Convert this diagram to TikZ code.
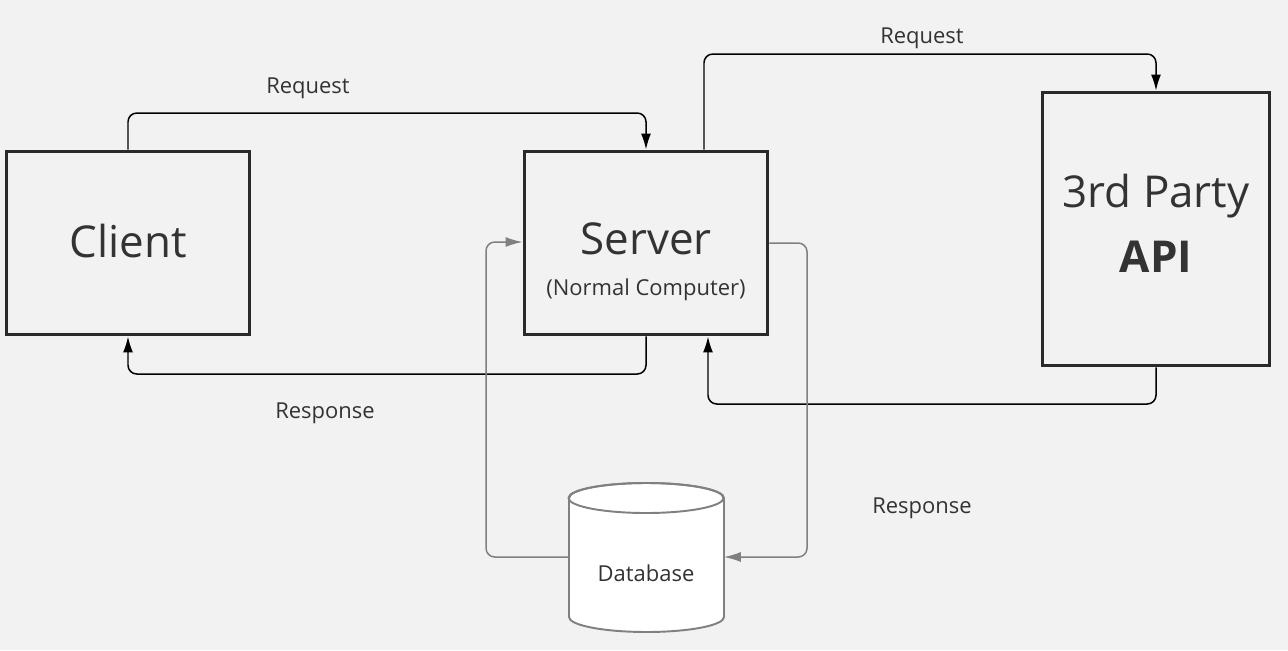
\documentclass[tikz,border=0pt]{standalone}
\usepackage{fontspec}
\setmainfont{Open Sans}
\usetikzlibrary{arrows.meta}
\definecolor{bgcol}{HTML}{F2F2F2}
\definecolor{boxline}{HTML}{2A2A2A}
\definecolor{txtcol}{HTML}{333333}
\definecolor{dbline}{HTML}{808080}
\begin{document}
\begin{tikzpicture}[x=0.02cm, y=-0.02cm, text=txtcol,
  box/.style={draw=boxline, line width=1.7pt, align=center, inner sep=0pt},
  big/.style={font=\fontsize{25}{32}\selectfont},
  lbl/.style={font=\fontsize{12.5}{15}\selectfont},
  req/.style={line width=0.85pt, rounded corners=5pt, -{Latex[length=0.32cm,width=0.2cm]}},
  dbarr/.style={draw=dbline, line width=0.85pt, rounded corners=5pt, -{Latex[length=0.34cm,width=0.2cm]}, dbline}]
  \fill[bgcol] (0,0) rectangle (1288,650);
  \useasboundingbox (0,0) rectangle (1288,650);

  \node[box, minimum width=4.88cm, minimum height=3.68cm] (client) at (128,243) {};
  \node[big] at (128,241) {Client};
  \node[box, minimum width=4.88cm, minimum height=3.68cm] (server) at (646,243) {};
  \node[big] at (646,239) {Server};
  \node[lbl] at (646,290) {(Normal Computer)};
  \node[box, minimum width=4.56cm, minimum height=5.48cm] (api) at (1156,229) {};
  \node[big] at (1156,196) {3rd Party};
  \node[big, font=\fontsize{25}{32}\selectfont\bfseries] at (1156,257) {API};

  % database cylinder
  \filldraw[draw=dbline, fill=white, line width=1.1pt]
    (569,498) -- (569,617) arc[start angle=180, end angle=360, x radius=1.55cm, y radius=0.3cm]
    -- (724,498) arc[start angle=0, end angle=180, x radius=1.55cm, y radius=0.3cm] -- cycle;
  \draw[dbline, line width=1.1pt] (646,498) ellipse [x radius=1.55cm, y radius=0.3cm];
  \node[lbl, minimum width=3.1cm, minimum height=2.3cm, inner sep=0pt] (db) at (646,557) {};
  \node[lbl] at (646,573) {Database};

  \draw[req] (client.north) |- (387,113) -| (server.north);
  \draw[req] (server.south) |- (387,374) -| (client.south);
  \draw[req] ([xshift=1.16cm]server.north) |- (930,54) -| (api.north);
  \draw[req] (api.south) |- (930,404) -| ([xshift=1.24cm]server.south);
  \draw[dbarr] (db.west) -| (486,400) |- ([yshift=0.02cm]server.west);
  \draw[dbarr] (server.east) -| (807,400) |- (db.east);

  \node[lbl] at (308,88) {Request};
  \node[lbl] at (325,413) {Response};
  \node[lbl] at (922,38) {Request};
  \node[lbl] at (922,508) {Response};
\end{tikzpicture}
\end{document}
